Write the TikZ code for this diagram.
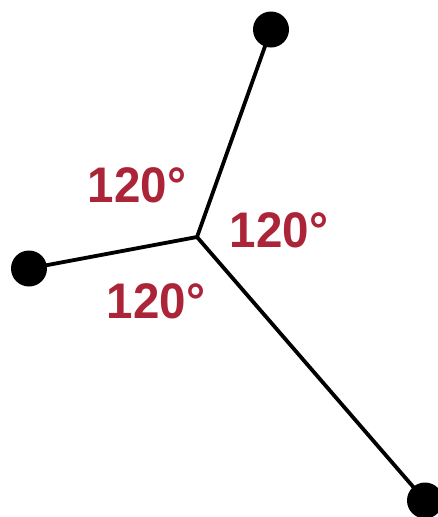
\documentclass[tikz,border=0pt]{standalone}
\usepackage{fontspec}
\setmainfont{Liberation Sans}
\definecolor{anglered}{RGB}{172,36,56}
\begin{document}
\begin{tikzpicture}[x=1pt,y=-1pt,
  dot/.style={circle,fill=black,inner sep=0pt,minimum size=36pt},
  edge/.style={draw=black,line width=3.8pt},
  lbl/.style={text=anglered,font=\fontsize{50}{50}\selectfont\bfseries,inner sep=0pt,anchor=center,xscale=0.95}]
\useasboundingbox (0,0) rectangle (438,517);
\fill[white] (0,0) rectangle (438,517);
\coordinate (c) at (197,237);
\node[dot] (top) at (271,29.5) {};
\node[dot] (left) at (29,268.5) {};
\node[dot] (br) at (425,500.5) {};
\draw[edge] (c) -- (top.center);
\draw[edge] (c) -- (left.center);
\draw[edge] (c) -- (br.center);
\node[lbl] (a1) at (137,185) {120°};
\node[lbl] (a2) at (279,230) {120°};
\node[lbl] (a3) at (156,301.5) {120°};
\end{tikzpicture}
\end{document}
